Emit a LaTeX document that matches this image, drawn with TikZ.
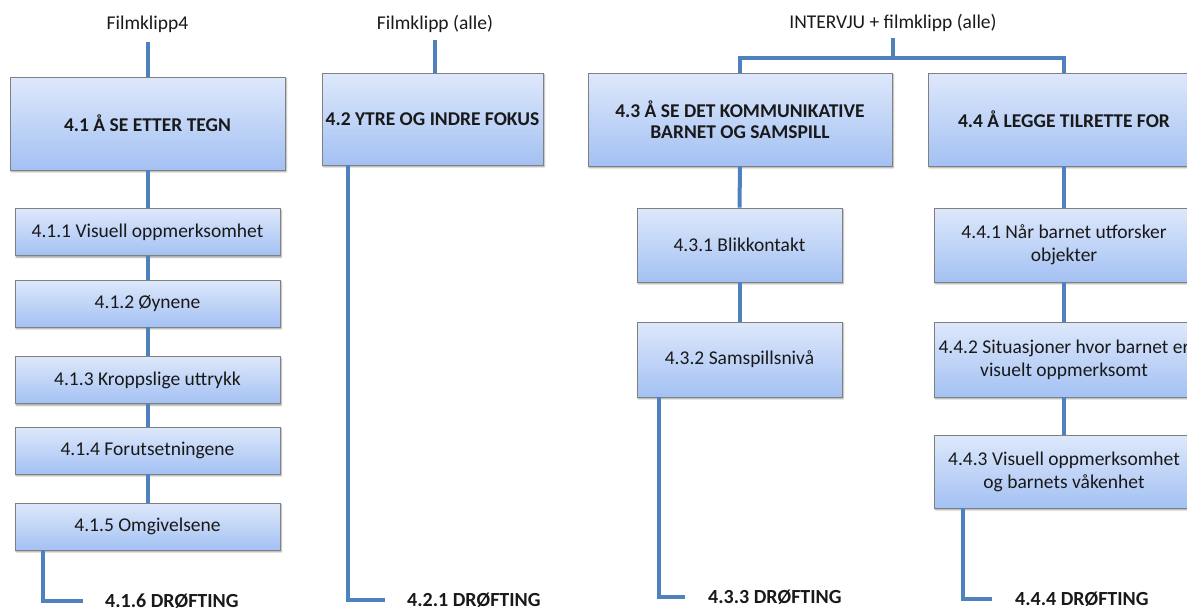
\documentclass[tikz,border=0pt]{standalone}
\usepackage{fontspec}
\setmainfont{Carlito}
\usetikzlibrary{shadows,shadows.blur}

\definecolor{linkblue}{RGB}{79,129,189}
\definecolor{boxtop}{RGB}{222,232,251}
\definecolor{boxbot}{RGB}{163,193,243}
\definecolor{boxedge}{RGB}{128,128,128}
\definecolor{ink}{RGB}{25,25,25}

\begin{document}
\begin{tikzpicture}[x=1pt, y=-1pt,
  basebox/.style={draw=boxedge, line width=0.8pt,
    top color=boxtop, bottom color=boxbot,
    blur shadow={shadow xshift=1.2pt, shadow yshift=-1.8pt,
      shadow blur radius=1.6pt, shadow opacity=40},
    inner sep=0pt, align=center, text=ink},
  headbox/.style={basebox, font=\bfseries\fontsize{19.5}{21}\selectfont},
  itembox/.style={basebox, font=\fontsize{19.5}{23}\selectfont},
  conn/.style={draw=linkblue, line width=4pt},
  toplabel/.style={anchor=base, inner sep=0pt, text=ink,
    font=\fontsize{19.5}{22}\selectfont},
  endlabel/.style={anchor=base west, inner sep=0pt, text=ink,
    font=\bfseries\fontsize{20}{22}\selectfont}]

\path[use as bounding box, clip] (0,0) rectangle (1187,611);

% ---------- column 4.1 ----------
\node[toplabel] (lab1) at (147.5,29) {Filmklipp4};
\node[headbox, minimum width=275pt, minimum height=93pt] (b41) at (147.5,123.5) {4.1 Å SE ETTER TEGN};
\node[itembox, minimum width=265pt, minimum height=47pt] (b411) at (147.5,232)   {4.1.1 Visuell oppmerksomhet};
\node[itembox, minimum width=265pt, minimum height=47pt] (b412) at (147.5,303.5) {4.1.2 Øynene};
\node[itembox, minimum width=265pt, minimum height=47pt] (b413) at (147.5,380)   {4.1.3 Kroppslige uttrykk};
\node[itembox, minimum width=265pt, minimum height=47pt] (b414) at (147.5,450.5) {4.1.4 Forutsetningene};
\node[itembox, minimum width=265pt, minimum height=47pt] (b415) at (147.5,526.5) {4.1.5 Omgivelsene};
\node[endlabel] (d416) at (105,607) {4.1.6 DRØFTING};

% ---------- column 4.2 ----------
\node[toplabel] (lab2) at (435,29) {Filmklipp (alle)};
\node[headbox, minimum width=221pt, minimum height=92pt] (b42) at (432.5,119) {4.2 YTRE OG INDRE FOKUS};
\node[endlabel] (d421) at (407,606) {4.2.1 DRØFTING};

% ---------- columns 4.3 and 4.4 ----------
\node[toplabel] (lab3) at (893,28) {INTERVJU + filmklipp (alle)};
\coordinate (j) at (893,58);
\node[headbox, minimum width=304pt, minimum height=93pt] (b43) at (740,119.5) {4.3 Å SE DET KOMMUNIKATIVE\\BARNET OG SAMSPILL};
\node[headbox, minimum width=272pt, minimum height=93pt] (b44) at (1064,119.5) {4.4 Å LEGGE TILRETTE FOR};

\node[itembox, minimum width=205pt, minimum height=74pt] (b431) at (739.5,245)   {4.3.1 Blikkontakt};
\node[itembox, minimum width=205pt, minimum height=75pt] (b432) at (739.5,359.5) {4.3.2 Samspillsnivå};
\node[endlabel] (d433) at (708,603) {4.3.3 DRØFTING};

\node[itembox, minimum width=260pt, minimum height=74pt] (b441) at (1064,245)   {4.4.1 Når barnet utforsker\\objekter};
\node[itembox, minimum width=260pt, minimum height=75pt] (b442) at (1064,359.5) {4.4.2 Situasjoner hvor barnet er\\visuelt oppmerksomt};
\node[itembox, minimum width=260pt, minimum height=73pt] (b443) at (1064,471.5) {4.4.3 Visuell oppmerksomhet\\og barnets våkenhet};
\node[endlabel] (d444) at (1015,605) {4.4.4 DRØFTING};

% ---------- connectors ----------
\draw[conn] ([yshift=-13pt]lab1.base) -- (b41.north);
\draw[conn] (b41.south) -- (b411.north);
\draw[conn] (b411.south) -- (b412.north);
\draw[conn] (b412.south) -- (b413.north);
\draw[conn] (b413.south) -- (b414.north);
\draw[conn] (b414.south) -- (b415.north);
\draw[conn] ([xshift=28pt]b415.south west) |- ([xshift=-22pt]d416.west);

\draw[conn] ([yshift=-11pt]lab2.base) -- (lab2.base |- b42.north);
\draw[conn] ([xshift=26pt]b42.south west) |- ([xshift=-22pt]d421.west);

\draw[conn] ([yshift=-10pt]lab3.base) -- (j);
\draw[conn] (b43.north) |- (j) -| (b44.north);
\draw[conn] (b43.south) -- (b431.north);
\draw[conn] (b431.south) -- (b432.north);
\draw[conn] ([xshift=22pt]b432.south west) |- ([xshift=-23pt]d433.west);

\draw[conn] (b44.south) -- (b441.north);
\draw[conn] (b441.south) -- (b442.north);
\draw[conn] (b442.south) -- (b443.north);
\draw[conn] ([xshift=29pt]b443.south west) |- ([xshift=-23pt]d444.west);
\end{tikzpicture}
\end{document}
